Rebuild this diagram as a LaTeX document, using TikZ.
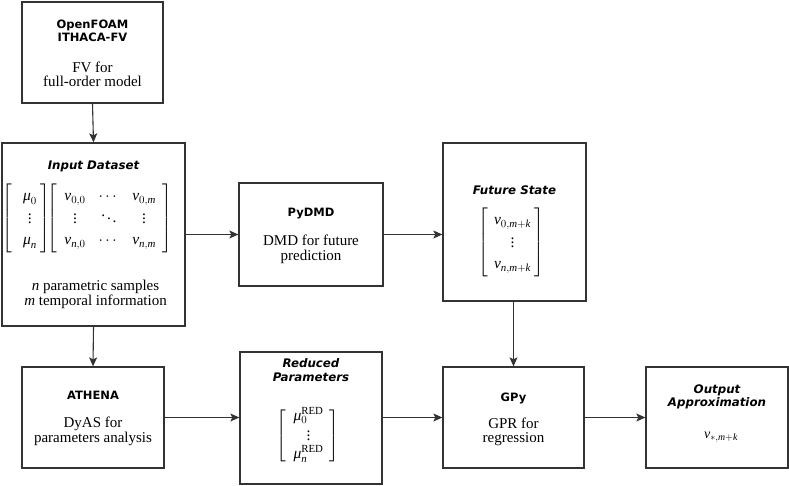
\RequirePackage{fix-cm}
\documentclass[tikz,border=0pt]{standalone}
\usepackage{amsmath}
\usepackage{fontspec}
\setmainfont{Liberation Serif}
\newfontfamily\hdfam{DejaVu Sans}
\usetikzlibrary{arrows.meta}
\newcommand{\hdfont}{\hdfam\bfseries\fontsize{11.5}{12.5}\selectfont}
\newcommand{\hifont}{\hdfam\bfseries\itshape\fontsize{11.8}{12.5}\selectfont}
\newcommand{\txfont}{\fontsize{15}{15}\selectfont}
\newcommand{\mxfont}{\fontsize{15.5}{17}\selectfont}
\newcommand{\iv}{\mathit{v}}
\newcommand{\imu}{\text{\itshape μ}}
\newcommand{\im}{\mathit{m}}
\newcommand{\inn}{\mathit{n}}
\newcommand{\ik}{\mathit{k}}
\begin{document}
\begin{tikzpicture}[x=1pt,y=-1pt,
  box/.style={draw=black!80, line width=1.3pt, inner sep=0pt, fill=white},
  hd/.style={font=\hdfont, anchor=base, inner sep=0pt},
  hi/.style={font=\hifont, anchor=base, inner sep=0pt},
  tx/.style={font=\txfont, anchor=base, inner sep=0pt},
  mx/.style={font=\mxfont, anchor=center, inner sep=0pt},
  arr/.style={-{Stealth[length=9pt,width=8pt,inset=2pt]}, line width=1.1pt, draw=black!80}]
\useasboundingbox (0,0) rectangle (789,485);
% boxes
\node[box, minimum width=141pt, minimum height=101pt] (b1) at (92.5,52.5) {};
\node[box, minimum width=183pt, minimum height=183pt] (b2) at (93.5,234.5) {};
\node[box, minimum width=144pt, minimum height=103pt] (b3) at (311,234.5) {};
\node[box, minimum width=143pt, minimum height=158pt] (b4) at (514.5,222) {};
\node[box, minimum width=142pt, minimum height=101pt] (b5) at (93,417.5) {};
\node[box, minimum width=142pt, minimum height=132pt] (b6) at (311,418) {};
\node[box, minimum width=141pt, minimum height=101pt] (b7) at (513.5,417.5) {};
\node[box, minimum width=142pt, minimum height=101pt] (b8) at (717,417.5) {};
% box 1
\node[hd] (t1a) at (92.5,28) {OpenFOAM};
\node[hd] (t1b) at (92.5,41) {ITHACA-FV};
\node[tx] (t1c) at (92.5,72) {FV for};
\node[tx] (t1d) at (92.5,86) {full-order model};
% box 2
\node[hi] (t2a) at (93.5,169) {Input Dataset};
\node[mx] (m2) at (87.5,218.5) {$\renewcommand{\arraystretch}{1.28}\left[\begin{array}{@{\hspace{11pt}}c@{\hspace{4pt}}}\imu_0\\ \vdots\\ \imu_\inn\end{array}\right]\!\!\left[\begin{array}{@{\hspace{7pt}}c@{\hspace{13pt}}c@{\hspace{13pt}}c@{\hspace{7pt}}}\iv_{0,0} & \cdots & \iv_{0,\im}\\ \vdots & \ddots & \vdots\\ \iv_{\inn,0} & \cdots & \iv_{\inn,\im}\end{array}\right]$};
\node[tx] (t2b) at (95.5,290) {\textit{n} parametric samples};
\node[tx] (t2c) at (95.5,305) {\textit{m} temporal information};
% box 3
\node[hd] (t3a) at (311,216) {PyDMD};
\node[tx] (t3b) at (311,245.5) {DMD for future};
\node[tx] (t3c) at (311,260.5) {prediction};
% box 4
\node[hi] (t4a) at (514.5,194) {Future State};
\node[mx] (m4) at (511.5,242.5) {$\renewcommand{\arraystretch}{1.28}\left[\begin{array}{@{\hspace{6pt}}c@{\hspace{4pt}}}\iv_{0,\im+\ik}\\ \vdots\\ \iv_{\inn,\im+\ik}\end{array}\right]$};
% box 5
\node[hd] (t5a) at (93,399) {ATHENA};
\node[tx] (t5b) at (93,427.5) {DyAS for};
\node[tx] (t5c) at (93,442.5) {parameters analysis};
% box 6
\node[hi] (t6a) at (311,367) {Reduced};
\node[hi] (t6b) at (311,381.5) {Parameters};
\node[mx] (m6) at (308,435.5) {$\renewcommand{\arraystretch}{1.0}\left[\begin{array}{@{\hspace{7pt}}c@{\hspace{6pt}}}\imu_0^{\mathrm{RED}}\\ \vdots\\ \imu_\inn^{\mathrm{RED}}\end{array}\right]$};
% box 7
\node[hd] (t7a) at (513.5,401.5) {GPy};
\node[tx] (t7b) at (513.5,428) {GPR for};
\node[tx] (t7c) at (513.5,442) {regression};
% box 8
\node[hi] (t8a) at (717,393) {Output};
\node[hi] (t8b) at (717,406.5) {Approximation};
\node[mx, font=\fontsize{14}{15}\selectfont] (m8) at (721,437) {$\iv_{*,\im+\ik}$};
% connectors
\draw[arr] (b1.south) -- (b2.north);
\draw[arr] (b2.east |- b3.west) -- (b3.west);
\draw[arr] (b3.east) -- (b3.east -| b4.west);
\draw[arr] (b2.south) -- (b5.north);
\draw[arr] (b5.east) -- (b5.east -| b6.west);
\draw[arr] (b6.east |- b7.west) -- (b7.west);
\draw[arr] (b7.east) -- (b8.west);
\draw[arr] (b4.south -| b7.north) -- (b7.north);
\end{tikzpicture}
\end{document}
